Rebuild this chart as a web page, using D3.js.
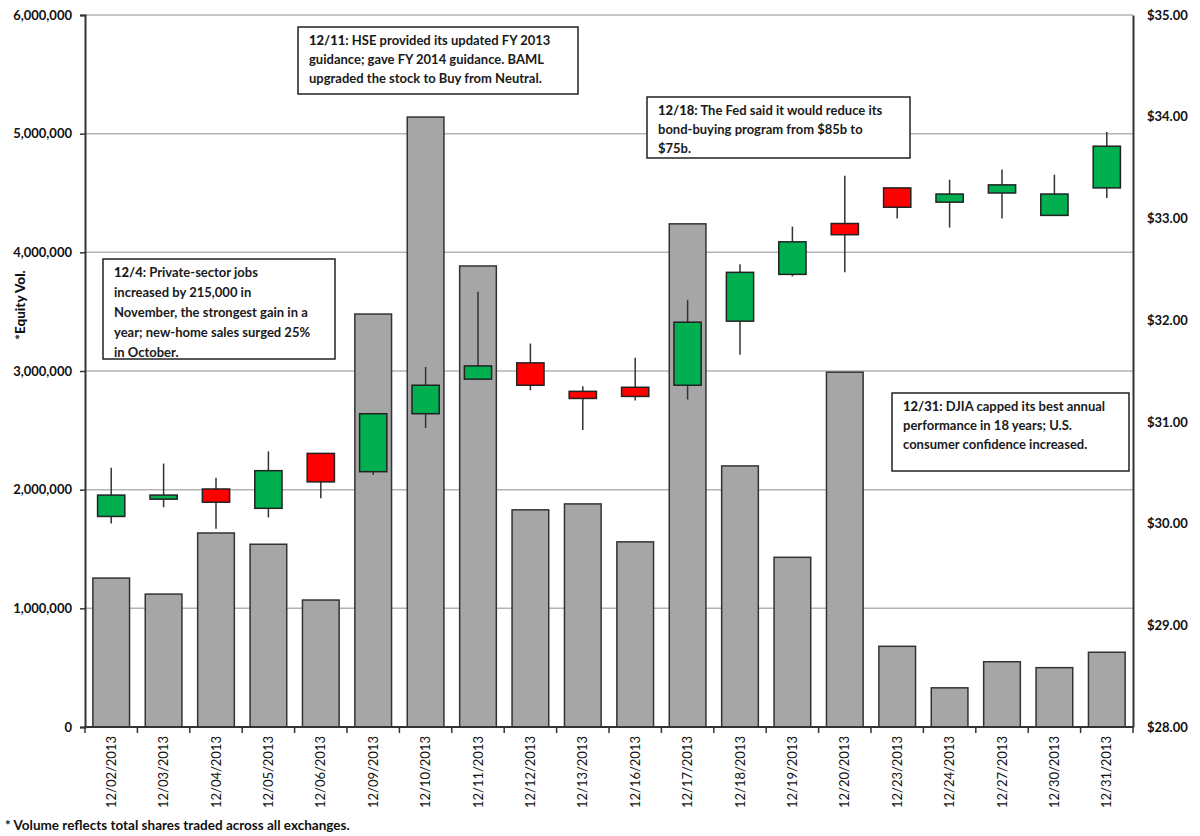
<!DOCTYPE html>
<html>
<head>
<meta charset="utf-8">
<script src="https://cdn.jsdelivr.net/npm/d3@7"></script>
<style>
  body { margin: 0; background: #fff; }
  svg { display: block; font-family: Lato, "Open Sans", sans-serif; }
</style>
</head>
<body>
<div id="chart"></div>
<script>
const dates = ["12/02/2013","12/03/2013","12/04/2013","12/05/2013","12/06/2013","12/09/2013","12/10/2013","12/11/2013","12/12/2013","12/13/2013","12/16/2013","12/17/2013","12/18/2013","12/19/2013","12/20/2013","12/23/2013","12/24/2013","12/27/2013","12/30/2013","12/31/2013"];
const volume = [1255000,1120000,1635000,1540000,1070000,3480000,5140000,3885000,1830000,1880000,1560000,4240000,2200000,1430000,2990000,680000,330000,550000,500000,630000];
const open  = [30.07,30.24,30.34,30.15,30.69,30.51,31.08,31.42,31.58,31.30,31.34,31.36,31.99,32.45,32.95,33.30,33.16,33.25,33.03,33.30];
const close = [30.28,30.28,30.21,30.52,30.41,31.08,31.36,31.55,31.36,31.23,31.25,31.98,32.47,32.77,32.84,33.11,33.24,33.33,33.24,33.71];
const high  = [30.55,30.59,30.45,30.71,30.69,31.08,31.54,32.28,31.77,31.35,31.63,32.20,32.55,32.92,33.42,33.30,33.38,33.48,33.43,33.85];
const low   = [30.00,30.16,29.95,30.06,30.25,30.48,30.94,31.42,31.31,30.92,31.21,31.22,31.66,32.43,32.47,33.00,32.91,33.00,33.03,33.20];
const volTicks = [0,1000000,2000000,3000000,4000000,5000000,6000000];
const priceTicks = [28,29,30,31,32,33,34,35];

const notes = [
  {x: 298, y: 27, w: 280, h: 67, head: "12/11", lines: [": HSE provided its updated FY 2013", "guidance; gave FY 2014 guidance. BAML", "upgraded the stock to Buy from Neutral."]},
  {x: 103, y: 259, w: 232, h: 100, head: "12/4", lines: [": Private-sector jobs", "increased by 215,000 in", "November, the strongest gain in a", "year; new-home sales surged 25%", "in October."]},
  {x: 647, y: 97, w: 263, h: 61, head: "12/18", lines: [": The Fed said it would reduce its", "bond-buying program from $85b to", "$75b."]},
  {x: 892, y: 393, w: 237, h: 78, head: "12/31", lines: [": DJIA capped its best annual", "performance in 18 years; U.S.", "consumer confidence increased."]}
];

const width = 1200, height = 836;
const margin = {top: 15, right: 67, bottom: 109, left: 85};

const svg = d3.select("#chart").append("svg")
  .attr("width", width)
  .attr("height", height);

const x = d3.scaleBand()
  .domain(dates)
  .range([margin.left, width - margin.right])
  .paddingInner(0.3)
  .paddingOuter(0.15);

const yVol = d3.scaleLinear()
  .domain([0, 6000000])
  .range([height - margin.bottom, margin.top]);

const yPrice = d3.scaleLinear()
  .domain([28, 35])
  .range([height - margin.bottom, margin.top]);

const step = x.step();
const x0 = margin.left, x1 = width - margin.right;
const yBottom = height - margin.bottom;

// gridlines
svg.append("g")
  .selectAll("line")
  .data(volTicks.slice(1))
  .join("line")
  .attr("x1", x0).attr("x2", x1)
  .attr("y1", d => yVol(d)).attr("y2", d => yVol(d))
  .attr("stroke", "#b3b3b3")
  .attr("stroke-width", 1.5);

// volume bars
svg.append("g")
  .selectAll("rect")
  .data(dates)
  .join("rect")
  .attr("x", d => x(d))
  .attr("y", (d, i) => yVol(volume[i]))
  .attr("width", x.bandwidth())
  .attr("height", (d, i) => yBottom - yVol(volume[i]))
  .attr("fill", "#a6a6a6")
  .attr("stroke", "#333")
  .attr("stroke-width", 1.5);

// candlesticks
const cw = step * 0.52;
const candles = svg.append("g")
  .selectAll("g")
  .data(dates)
  .join("g")
  .attr("transform", d => `translate(${x(d) + x.bandwidth() / 2},0)`);

candles.append("line")
  .attr("y1", (d, i) => yPrice(high[i]))
  .attr("y2", (d, i) => yPrice(low[i]))
  .attr("stroke", "#333")
  .attr("stroke-width", 1.5);

candles.append("rect")
  .attr("x", -cw / 2)
  .attr("width", cw)
  .attr("y", (d, i) => yPrice(Math.max(open[i], close[i])))
  .attr("height", (d, i) => Math.max(1, Math.abs(yPrice(open[i]) - yPrice(close[i]))))
  .attr("fill", (d, i) => close[i] >= open[i] ? "#00b050" : "#ff0000")
  .attr("stroke", "#222")
  .attr("stroke-width", 1.5);

// left axis
const leftAxis = svg.append("g")
  .attr("transform", `translate(${x0},0)`)
  .call(d3.axisLeft(yVol).tickValues(volTicks).tickFormat(d3.format(",")).tickSize(5).tickPadding(8));
leftAxis.select(".domain").attr("stroke", "#333").attr("stroke-width", 2);
leftAxis.selectAll(".tick line").attr("stroke", "#333").attr("stroke-width", 1.5);
leftAxis.selectAll("text")
  .attr("font-family", "Lato, sans-serif")
  .attr("font-size", 13)
  .attr("font-weight", "bold")
  .attr("fill", "#111");

// right axis
const rightAxis = svg.append("g")
  .attr("transform", `translate(${x1},0)`)
  .call(d3.axisRight(yPrice).tickValues(priceTicks).tickFormat(d => "$" + d3.format(".2f")(d)).tickSize(0).tickPadding(14));
rightAxis.select(".domain").attr("stroke", "#333").attr("stroke-width", 2);
rightAxis.selectAll("text")
  .attr("font-family", "Lato, sans-serif")
  .attr("font-size", 13)
  .attr("font-weight", "bold")
  .attr("fill", "#111");

// bottom axis with ticks between categories
svg.append("line")
  .attr("x1", x0).attr("x2", x1)
  .attr("y1", yBottom).attr("y2", yBottom)
  .attr("stroke", "#333")
  .attr("stroke-width", 2);

svg.append("g")
  .selectAll("line")
  .data(d3.range(dates.length + 1))
  .join("line")
  .attr("x1", i => x0 + i * step).attr("x2", i => x0 + i * step)
  .attr("y1", yBottom).attr("y2", yBottom + 6)
  .attr("stroke", "#333")
  .attr("stroke-width", 1.5);

svg.append("g")
  .selectAll("text")
  .data(dates)
  .join("text")
  .attr("transform", d => `translate(${x(d) + x.bandwidth() / 2},${yBottom + 9}) rotate(-90)`)
  .attr("text-anchor", "end")
  .attr("dy", "0.35em")
  .attr("font-size", 13)
  .attr("fill", "#111")
  .text(d => d);

// axis title
svg.append("text")
  .attr("transform", `translate(20,305) rotate(-90)`)
  .attr("text-anchor", "middle")
  .attr("dy", "0.35em")
  .attr("font-size", 13.5)
  .attr("font-weight", 900)
  .attr("fill", "#111")
  .text("*Equity Vol.");

// footnote
svg.append("text")
  .attr("x", 5)
  .attr("y", 830)
  .attr("font-size", 13.5)
  .attr("font-weight", "bold")
  .attr("fill", "#111")
  .text("* Volume reflects total shares traded across all exchanges.");

// annotation boxes
const boxes = svg.append("g")
  .selectAll("g")
  .data(notes)
  .join("g")
  .attr("transform", d => `translate(${d.x},${d.y})`);

boxes.append("rect")
  .attr("width", d => d.w)
  .attr("height", d => d.h)
  .attr("fill", "#fff")
  .attr("stroke", "#222")
  .attr("stroke-width", 1.5);

boxes.each(function(d) {
  const g = d3.select(this);
  const lh = d.lines.length === 5 ? 20 : 19.2;
  d.lines.forEach((line, i) => {
    const t = g.append("text")
      .attr("x", 11)
      .attr("y", 18 + i * lh)
      .attr("font-size", 13)
      .attr("font-weight", "bold")
      .attr("fill", "#1a1a1a");
    if (i === 0) {
      t.append("tspan").attr("font-weight", 900).text(d.head);
    }
    t.append("tspan").text(line);
  });
});
</script>
</body>
</html>
